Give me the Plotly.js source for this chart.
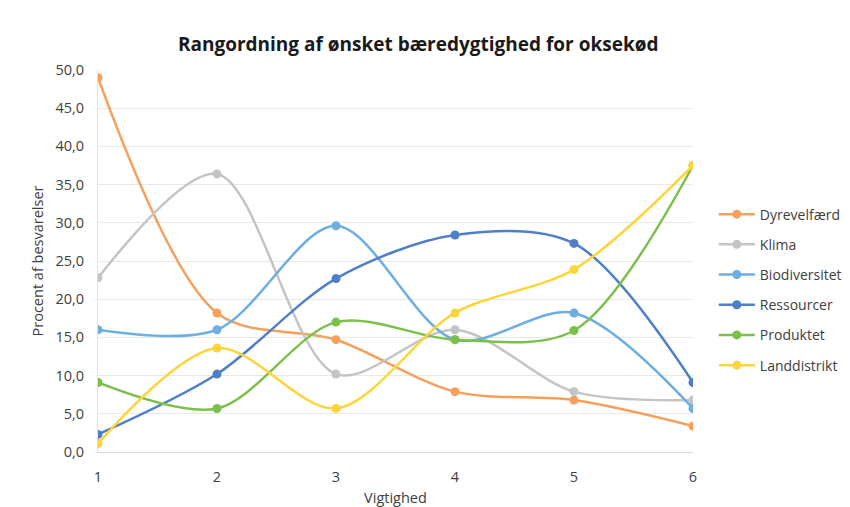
<!DOCTYPE html>
<html>
<head>
<meta charset="utf-8">
<script src="https://cdn.plot.ly/plotly-3.0.1.min.js"></script>
<style>html,body{margin:0;padding:0;background:#fff;}#chart{width:850px;height:507px;}</style>
</head>
<body>
<div id="chart"></div>
<script>
var categories = [1, 2, 3, 4, 5, 6];
var seriesNames = ["Dyrevelfærd", "Klima", "Biodiversitet", "Ressourcer", "Produktet", "Landdistrikt"];
var dyrevelfaerd = [49.0, 18.2, 14.7, 7.9, 6.8, 3.4];
var klima = [22.8, 36.4, 10.2, 16.0, 7.9, 6.8];
var biodiversitet = [16.0, 16.0, 29.6, 14.7, 18.2, 5.7];
var ressourcer = [2.3, 10.2, 22.7, 28.4, 27.3, 9.1];
var produktet = [9.1, 5.7, 17.0, 14.7, 15.9, 37.5];
var landdistrikt = [1.1, 13.6, 5.7, 18.2, 23.9, 37.5];
var yTicks = [0, 5, 10, 15, 20, 25, 30, 35, 40, 45, 50];
var yTickLabels = ["0,0", "5,0", "10,0", "15,0", "20,0", "25,0", "30,0", "35,0", "40,0", "45,0", "50,0"];

var values = [dyrevelfaerd, klima, biodiversitet, ressourcer, produktet, landdistrikt];
var colors = ["#F6A05C", "#C4C4C4", "#6DAEE3", "#4F7FC9", "#7CC04A", "#FDD43A"];

var traces = seriesNames.map(function (n, i) {
  return {
    x: categories, y: values[i], name: n, type: "scatter", mode: "lines+markers",
    legendgroup: "g" + i,
    line: {color: colors[i], width: 2.5, shape: "spline", smoothing: 0.9},
    marker: {color: colors[i], size: 9}
  };
});

var layout = {
  width: 850, height: 507,
  margin: {l: 98, r: 157, t: 70, b: 55, autoexpand: false},
  paper_bgcolor: "#fff", plot_bgcolor: "#fff",
  font: {family: "Open Sans, sans-serif", color: "#404040"},
  title: {text: "<b>Rangordning af ønsket bæredygtighed for oksekød</b>", x: 0.492, xanchor: "center", y: 0.912, yanchor: "middle",
          font: {size: 19, color: "#1a1a1a", family: "Open Sans, sans-serif"}},
  xaxis: {
    range: [1, 6], tickvals: categories, ticktext: categories.map(String),
    showgrid: false, zeroline: false, showline: true, linecolor: "#D9D9D9", linewidth: 1,
    ticks: "outside", ticklen: 12, tickcolor: "rgba(0,0,0,0)", tickfont: {size: 14.5, color: "#404040"},
    title: {text: "Vigtighed", font: {size: 14.5, color: "#404040"}, standoff: 10}
  },
  yaxis: {
    range: [0, 50], tickvals: yTicks, ticktext: yTickLabels,
    showgrid: true, gridcolor: "#E8E8E8", gridwidth: 1, zeroline: false,
    showline: true, linecolor: "#E0E0E0", ticks: "outside", ticklen: 10, tickcolor: "rgba(0,0,0,0)",
    tickfont: {size: 14.5, color: "#404040"},
    title: {text: "Procent af besvarelser", font: {size: 14.5, color: "#404040"}, standoff: 8}
  },
  legend: {x: 1.035, xanchor: "left", y: 0.424, yanchor: "middle", font: {size: 14, color: "#404040"},
           tracegroupgap: 9, itemwidth: 36, bgcolor: "rgba(0,0,0,0)"},
  showlegend: true
};

Plotly.newPlot("chart", traces, layout, {displayModeBar: false, staticPlot: true});
</script>
</body>
</html>
